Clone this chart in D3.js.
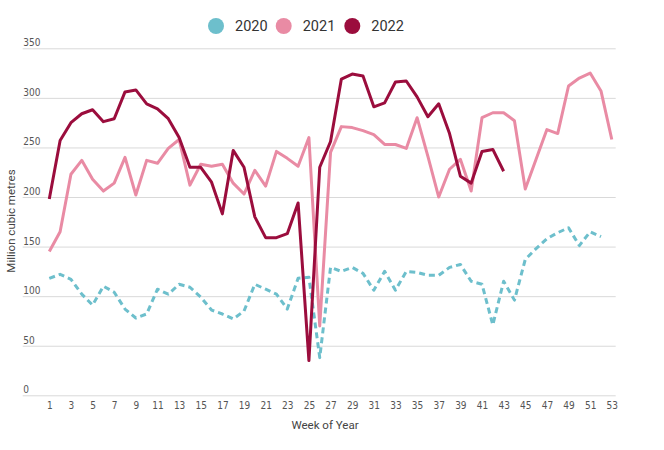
<!DOCTYPE html>
<html>
<head>
<meta charset="utf-8">
<script src="https://cdn.jsdelivr.net/npm/d3@7"></script>
<style>
  body { margin: 0; background: #fff; }
  svg { display: block; }
  .tick text { font-family: "Liberation Sans Narrow", "DejaVu Sans Condensed", Roboto, sans-serif; font-stretch: condensed; font-size: 10px; fill: #555; }
</style>
</head>
<body>
<div id="chart"></div>
<script>
// Weekly values, million cubic metres
const weeks = d3.range(1, 54);
const years = ['2020', '2021', '2022'];
const colors = ['#6dbfcc', '#e98ba4', '#9b0d3d'];

const values2020 = [118, 122, 117, 102, 91, 110, 104, 87, 78, 82,
  107, 102, 112, 109, 99, 86, 82, 77, 85, 112,
  107, 102, 87, 118, 119, 38, 129, 125, 129, 123,
  106, 125, 106, 125, 124, 121, 121, 129, 132, 115,
  112, 71, 115, 96, 137, 148, 158, 164, 169, 151,
  165, 160];
const values2021 = [145, 165, 223, 237, 218, 206, 214, 240, 202, 237,
  234, 249, 258, 212, 233, 231, 233, 214, 203, 227,
  211, 246, 239, 231, 260, 70, 245, 271, 270, 267,
  263, 253, 253, 249, 280, 241, 200, 228, 238, 206,
  280, 285, 285, 277, 208, 238, 268, 264, 312, 320,
  325, 307, 258];
const values2022 = [198, 257, 275, 284, 288, 276, 279, 306, 308, 294,
  289, 279, 260, 230, 230, 215, 183, 247, 230, 180,
  159, 159, 163, 194, 35, 230, 256, 319, 324, 322,
  291, 295, 316, 317, 301, 281, 294, 264, 221, 214,
  246, 248, 226];

const xTicks = d3.range(1, 54, 2);
const yTicks = [0, 50, 100, 150, 200, 250, 300, 350];

const width = 664;
const height = 450;
const gridLeft = 22.7;
const gridRight = 615.7;

const svg = d3.select('#chart').append('svg')
  .attr('width', width)
  .attr('height', height);

const x = d3.scaleLinear().domain([1, 53]).range([49.3, 611.8]);
const y = d3.scaleLinear().domain([0, 350]).range([395.3, 48.3]);

// Horizontal grid with labels sitting just above each line
const yAxis = svg.append('g')
  .attr('transform', `translate(${gridLeft},0)`)
  .call(d3.axisRight(y).tickValues(yTicks).tickSize(gridRight - gridLeft).tickFormat(d3.format('d')));
yAxis.select('.domain').remove();
yAxis.selectAll('.tick line').attr('stroke', '#d9d9d9').attr('stroke-width', 1);
yAxis.selectAll('.tick text')
  .attr('x', 0.5)
  .attr('dy', -2.5)
  .attr('text-anchor', 'start');

const xAxis = svg.append('g')
  .attr('transform', 'translate(0,395.3)')
  .call(d3.axisBottom(x).tickValues(xTicks).tickSize(0).tickPadding(7).tickFormat(d3.format('d')));
xAxis.select('.domain').remove();

svg.append('text')
  .attr('x', 325)
  .attr('y', 429)
  .attr('text-anchor', 'middle')
  .style('font-family', 'Roboto, sans-serif')
  .style('font-size', '11.5px')
  .style('fill', '#444')
  .text('Week of Year');

svg.append('text')
  .attr('transform', 'translate(15,221) rotate(-90)')
  .attr('text-anchor', 'middle')
  .style('font-family', 'Roboto, sans-serif')
  .style('font-size', '11.5px')
  .style('fill', '#444')
  .text('Million cubic metres');

// Lines
const line = d3.line()
  .x((d, i) => x(weeks[i]))
  .y(d => y(d));

const series = [values2020, values2021, values2022];
series.forEach((vals, i) => {
  svg.append('path')
    .datum(vals)
    .attr('d', line)
    .attr('fill', 'none')
    .attr('stroke', colors[i])
    .attr('stroke-width', 3)
    .attr('stroke-linejoin', 'round')
    .attr('stroke-dasharray', i === 0 ? '6,4' : null);
});

// Legend
const legendX = [216, 283.7, 352.3];
const legend = svg.append('g');
years.forEach((yr, i) => {
  legend.append('circle')
    .attr('cx', legendX[i])
    .attr('cy', 26)
    .attr('r', 8)
    .attr('fill', colors[i]);
  legend.append('text')
    .attr('x', legendX[i] + 19)
    .attr('y', 31)
    .style('font-family', 'Roboto, sans-serif')
    .style('font-size', '14.5px')
    .style('fill', '#333')
    .text(yr);
});
</script>
</body>
</html>
